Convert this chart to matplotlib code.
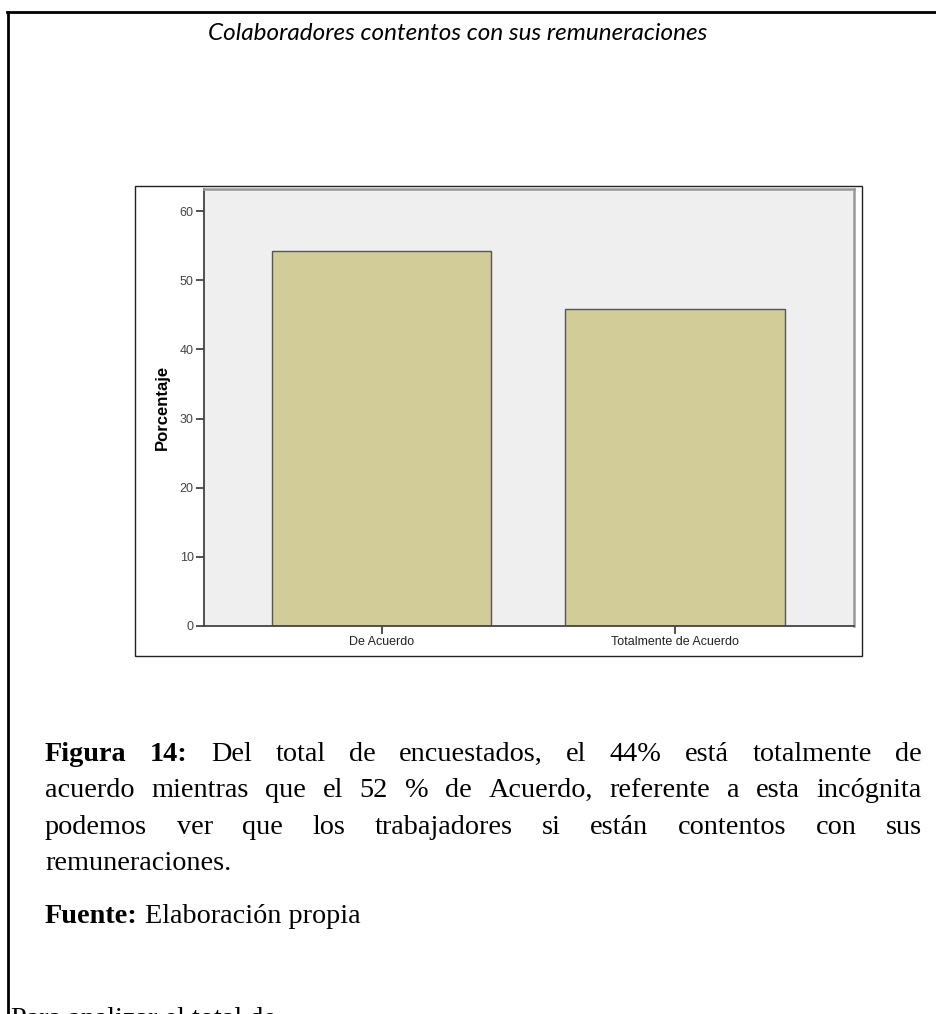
import matplotlib
matplotlib.use("Agg")
import matplotlib.pyplot as plt
from matplotlib.patches import Rectangle
from matplotlib.lines import Line2D

categories = ["De Acuerdo", "Totalmente de Acuerdo"]
porcentaje = [54.17, 45.83]
yticks = [0, 10, 20, 30, 40, 50, 60]

titulo = "Colaboradores contentos con sus remuneraciones"
caption_lines = [
    [("Figura", True), ("14:", True), ("Del", False), ("total", False), ("de", False),
     ("encuestados,", False), ("el", False), ("44%", False), ("está", False),
     ("totalmente", False), ("de", False)],
    [("acuerdo", False), ("mientras", False), ("que", False), ("el", False), ("52", False),
     ("%", False), ("de", False), ("Acuerdo,", False), ("referente", False), ("a", False),
     ("esta", False), ("incógnita", False)],
    [("podemos", False), ("ver", False), ("que", False), ("los", False),
     ("trabajadores", False), ("si", False), ("están", False), ("contentos", False),
     ("con", False), ("sus", False)],
]
caption_last = "remuneraciones."
fuente_bold = "Fuente:"
fuente_txt = " Elaboración propia"
pie_txt = "Para analizar el total de"

W, H = 937, 1014
fig = plt.figure(figsize=(W / 100, H / 100), dpi=100)

def fx(px):
    return px / W

def fy(py):
    return 1 - py / H

# page frame (top and left)
fig.add_artist(Line2D([fx(7), fx(937)], [fy(12), fy(12)], color="black", lw=2))
fig.add_artist(Line2D([fx(8), fx(8)], [fy(12), fy(1014)], color="black", lw=2))

fig.text(fx(458), fy(33), titulo, ha="center", va="center", fontsize=17.5,
         family="Lato", style="italic", color="black")

# SPSS chart outer box
fig.add_artist(Rectangle((fx(135), fy(656)), fx(862) - fx(135), fy(186) - fy(656),
                         fill=False, edgecolor="#222222", lw=1.0))

ax = fig.add_axes([fx(204), fy(626), fx(854) - fx(204), fy(189) - fy(626)])
ax.set_facecolor("#EFEFEF")
x = list(range(len(categories)))
ax.bar(x, porcentaje, width=0.748, color="#D2CD98", edgecolor="#555555", linewidth=1.0,
       zorder=2)
ax.set_xlim(-0.607, 1.611)
ax.set_ylim(0, 63.2)
ax.set_yticks(yticks)
ax.set_xticks(x)
ax.set_xticklabels(categories, fontsize=9, family="Liberation Sans", color="#222222")
ax.set_yticklabels([str(t) for t in yticks], fontsize=9, family="Liberation Sans",
                   color="#444444")
ax.tick_params(axis="both", direction="out", length=6, width=1.2, color="#333333", pad=1.5)
ax.set_ylabel("Porcentaje", fontsize=12, fontweight="bold", family="Liberation Sans")
ax.yaxis.set_label_coords(-0.052, 0.5)
for s in ["left", "bottom"]:
    ax.spines[s].set_color("#444444")
    ax.spines[s].set_linewidth(1.3)
for s in ["top", "right"]:
    ax.spines[s].set_color("#999999")
    ax.spines[s].set_linewidth(1.8)

# caption, justified text
fs = 20.3
renderer = fig.canvas.get_renderer()

def width_px(s, bold, size=fs):
    t = fig.text(0, 0, s, fontsize=size, family="Liberation Serif",
                 fontweight="bold" if bold else "normal")
    w = t.get_window_extent(renderer).width
    t.remove()
    return w

x0, x1 = 45, 922
base = 761
step = 36.3
for i, words in enumerate(caption_lines):
    widths = [width_px(w, b) for w, b in words]
    gap = (x1 - x0 - sum(widths)) / (len(words) - 1)
    xp = x0
    for (w, b), wd in zip(words, widths):
        fig.text(fx(xp), fy(base + i * step), w, fontsize=fs, family="Liberation Serif",
                 fontweight="bold" if b else "normal", va="baseline", ha="left")
        xp += wd + gap
fig.text(fx(x0), fy(base + 3 * step), caption_last, fontsize=fs,
         family="Liberation Serif", va="baseline", ha="left")

wb = width_px(fuente_bold, True)
fig.text(fx(x0), fy(923), fuente_bold, fontsize=fs, family="Liberation Serif",
         fontweight="bold", va="baseline", ha="left")
fig.text(fx(x0 + wb), fy(923), fuente_txt, fontsize=fs, family="Liberation Serif",
         va="baseline", ha="left")

fig.text(fx(11), fy(1026), pie_txt, fontsize=fs, family="Liberation Serif",
         va="baseline", ha="left")

fig.savefig("out.png", dpi=100)
